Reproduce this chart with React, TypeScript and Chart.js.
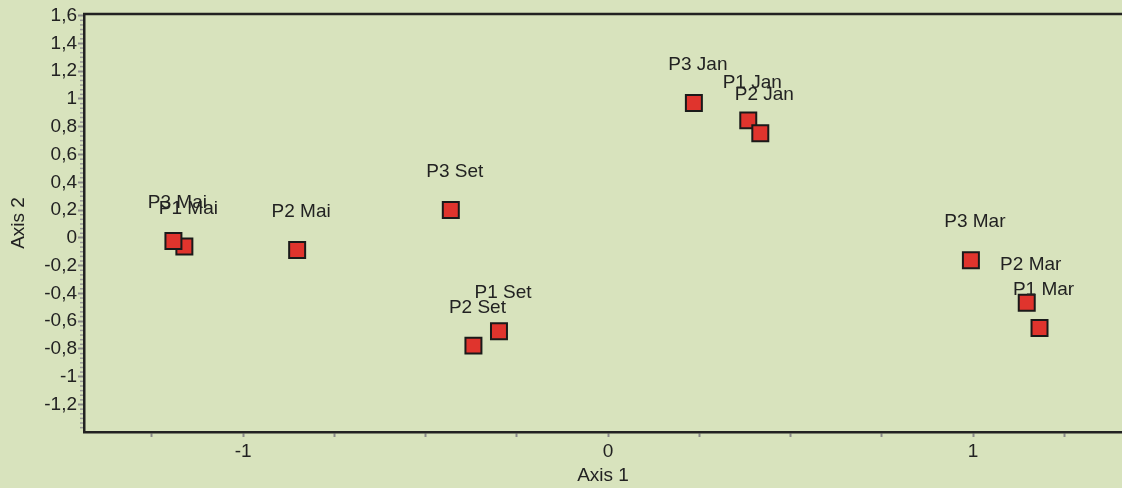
import React, { useEffect, useRef } from "react";
import { Chart, registerables } from "chart.js";

Chart.register(...registerables);

const pointNames = ["P1 Jan", "P2 Jan", "P3 Jan", "P1 Mar", "P2 Mar", "P3 Mar", "P1 Mai", "P2 Mai", "P3 Mai", "P1 Set", "P2 Set", "P3 Set"];
const axis1Values = [0.384, 0.417, 0.235, 1.182, 1.147, 0.994, -1.161, -0.852, -1.191, -0.299, -0.369, -0.431];
const axis2Values = [0.846, 0.754, 0.971, -0.649, -0.468, -0.161, -0.063, -0.087, -0.022, -0.672, -0.776, 0.2];

const xRange = [-1.436, 1.408];
const yRange = [-1.398, 1.612];
const xAxisTitle = "Axis 1";
const yAxisTitle = "Axis 2";

const BG = "rgb(216,227,189)";
const TEXT = "#222222";
const FONT_FAMILY = "'Liberation Sans', Arial, sans-serif";

function fmt(v: number): string {
  const r = Math.round(v * 10) / 10;
  if (Math.abs(r) < 1e-9) return "0";
  return String(r).replace(".", ",");
}

const framePlugin = {
  id: "frameAndLabels",
  beforeDraw(chart: any) {
    const ctx = chart.ctx;
    ctx.save();
    ctx.fillStyle = BG;
    ctx.fillRect(0, 0, chart.width, chart.height);
    ctx.restore();
  },
  afterDraw(chart: any) {
    const ctx = chart.ctx;
    const { left, right, top } = chart.chartArea;
    const y = chart.scales.y;
    ctx.save();
    // minor ticks on y axis
    ctx.strokeStyle = "#9a9a9a";
    ctx.lineWidth = 1.5;
    const step = 0.2 / 6;
    for (let i = Math.ceil(y.min / step); i * step <= y.max; i++) {
      if (i % 6 === 0) continue;
      const py = y.getPixelForValue(i * step);
      ctx.beginPath();
      ctx.moveTo(left - 4, py);
      ctx.lineTo(left - 1, py);
      ctx.stroke();
    }
    // top frame line
    ctx.strokeStyle = "#222222";
    ctx.lineWidth = 2.5;
    ctx.beginPath();
    ctx.moveTo(left - 1, top);
    ctx.lineTo(right + 2, top);
    ctx.stroke();
    ctx.restore();
  },
  afterDatasetsDraw(chart: any) {
    const ctx = chart.ctx;
    const xs = chart.scales.x;
    const ys = chart.scales.y;
    ctx.save();
    ctx.font = `19px ${FONT_FAMILY}`;
    ctx.fillStyle = TEXT;
    ctx.textAlign = "center";
    ctx.textBaseline = "middle";
    pointNames.forEach((name, i) => {
      const px = xs.getPixelForValue(axis1Values[i]);
      const py = ys.getPixelForValue(axis2Values[i]);
      ctx.fillText(name, px + 4, py - 38);
    });
    ctx.restore();
  },
};

export default function App() {
  const canvasRef = useRef<HTMLCanvasElement | null>(null);

  useEffect(() => {
    if (!canvasRef.current) return;
    const data = axis1Values.map((x, i) => ({ x, y: axis2Values[i] }));
    const chart = new Chart(canvasRef.current, {
      type: "scatter",
      data: {
        datasets: [
          {
            label: "points",
            data,
            pointStyle: "rect",
            pointRadius: 11.3,
            pointHoverRadius: 11.3,
            backgroundColor: "rgb(224,52,45)",
            borderColor: "#1a1a1a",
            borderWidth: 2,
          },
        ],
      },
      options: {
        responsive: false,
        animation: false,
        events: [],
        layout: { autoPadding: false, padding: { top: 14, right: 0, left: 0, bottom: 0 } },
        plugins: {
          legend: { display: false },
          tooltip: { enabled: false },
        },
        scales: {
          x: {
            type: "linear",
            min: xRange[0],
            max: xRange[1],
            afterFit: (s: any) => {
              s.height = 56;
              s.paddingRight = 0;
              s.paddingLeft = 0;
            },
            ticks: {
              stepSize: 0.25,
              includeBounds: false,
              autoSkip: false,
              maxRotation: 0,
              padding: 3,
              color: TEXT,
              font: { family: FONT_FAMILY, size: 19 },
              callback: (v: any) => {
                const n = Number(v);
                return Math.abs(n - Math.round(n)) < 1e-6 ? fmt(n) : "";
              },
            },
            grid: {
              drawOnChartArea: false,
              drawTicks: true,
              tickLength: 5,
              tickColor: "#8a8a8a",
              tickWidth: 2,
            },
            border: { display: true, color: "#222222", width: 2.5 },
            title: {
              display: true,
              text: xAxisTitle,
              color: TEXT,
              font: { family: FONT_FAMILY, size: 19 },
              padding: { top: 0, bottom: 1 },
            },
          },
          y: {
            type: "linear",
            min: yRange[0],
            max: yRange[1],
            afterFit: (s: any) => {
              s.width = 84;
            },
            ticks: {
              stepSize: 0.2,
              includeBounds: false,
              autoSkip: false,
              padding: 1,
              color: TEXT,
              font: { family: FONT_FAMILY, size: 19 },
              callback: (v: any) => fmt(Number(v)),
            },
            grid: {
              drawOnChartArea: false,
              drawTicks: true,
              tickLength: 6,
              tickColor: "#8a8a8a",
              tickWidth: 2,
            },
            border: { display: true, color: "#222222", width: 2.5 },
            title: {
              display: true,
              text: yAxisTitle,
              color: TEXT,
              font: { family: FONT_FAMILY, size: 19 },
              padding: { top: 7, bottom: 0 },
            },
          },
        },
      },
      plugins: [framePlugin],
    } as any);
    return () => chart.destroy();
  }, []);

  return (
    <div style={{ position: "absolute", left: 0, top: 0, width: 1122, height: 488, background: BG }}>
      <canvas ref={canvasRef} width={1122} height={488} style={{ display: "block" }} />
    </div>
  );
}
